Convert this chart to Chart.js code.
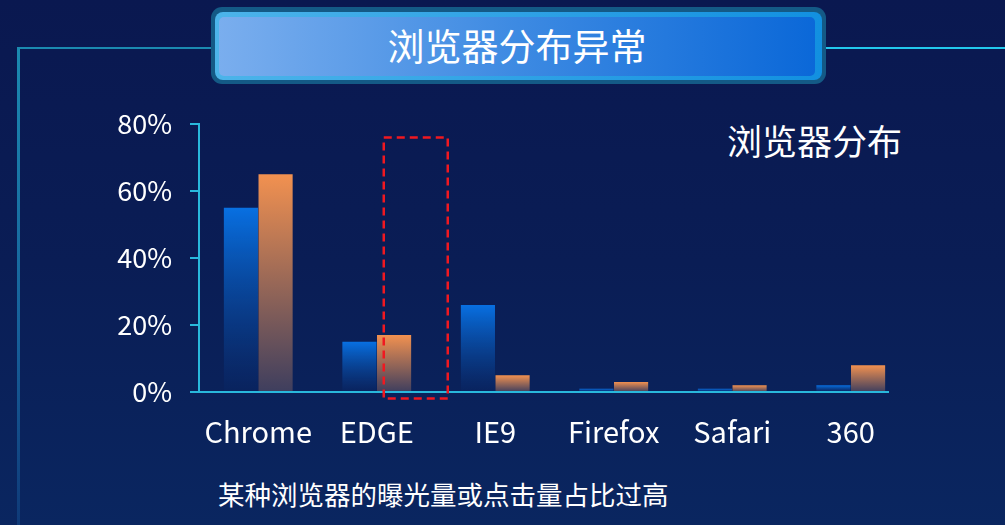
<!DOCTYPE html>
<html>
<head>
<meta charset="utf-8">
<script src="https://cdn.jsdelivr.net/npm/chart.js@4/dist/chart.umd.min.js"></script>
<style>
    html, body {
        margin: 0;
        padding: 0;
        width: 1005px;
        height: 525px;
        overflow: hidden;
        font-family: 'Noto Sans CJK SC', sans-serif;
    }
    body {
        position: relative;
        background: linear-gradient(180deg, #0a1850 0%, #0a1d55 50%, #0a2660 100%);
    }
    .line_left {
        position: absolute;
        left: 17px;
        top: 47px;
        width: 194px;
        height: 2px;
        background: #1b8ab0;
    }
    .line_down {
        position: absolute;
        left: 17px;
        top: 47px;
        width: 3px;
        height: 478px;
        background: linear-gradient(180deg, #1b8ab0 0%, #16609a 60%, #0f3a78 100%);
    }
    .line_right {
        position: absolute;
        left: 822px;
        top: 47px;
        width: 183px;
        height: 2px;
        background: #22c8ec;
    }
    .title_box {
        position: absolute;
        left: 211px;
        top: 7px;
        width: 615px;
        height: 77px;
        box-sizing: border-box;
        border-radius: 11px;
        background: #145a86;
    }
    .title_border {
        position: absolute;
        left: 4px;
        top: 5px;
        right: 4px;
        bottom: 4px;
        border-radius: 8px;
        background: linear-gradient(90deg, #4cb4ea 0%, #1290e0 100%);
    }
    .title_inner {
        position: absolute;
        left: 4px;
        top: 5px;
        right: 7px;
        bottom: 4px;
        border-radius: 5px;
        background: linear-gradient(90deg, #7aaeee 0%, #3d8ae2 50%, #0b68d8 100%);
        color: #fff;
        font-size: 37px;
        line-height: 56px;
        text-align: center;
    }
    .chart_note {
        position: absolute;
        left: 727px;
        top: 117px;
        color: #fff;
        font-size: 35px;
        line-height: 46px;
    }
    .foot_note {
        position: absolute;
        left: 218px;
        top: 476px;
        color: #fff;
        font-size: 26.5px;
        line-height: 36px;
    }
    .canvas-container {
        position: absolute;
        left: 0;
        top: 0;
        width: 1005px;
        height: 525px;
    }
</style>
</head>
<body>
<div class="line_left"></div>
<div class="line_down"></div>
<div class="line_right"></div>
<div class="title_box">
    <div class="title_border">
        <div class="title_inner">浏览器分布异常</div>
    </div>
</div>
<div class="chart_note">浏览器分布</div>
<div class="foot_note">某种浏览器的曝光量或点击量占比过高</div>
<div class="canvas-container"><canvas id="browser_graph" width="1005" height="525"></canvas></div>

<script>
// 数据
const browsers = ['Chrome', 'EDGE', 'IE9', 'Firefox', 'Safari', '360'];
const blueValues = [55, 15, 26, 1, 1, 2];
const orangeValues = [65, 17, 5, 3, 2, 8];
const yTicks = [0, 20, 40, 60, 80];

// 每根柱子自己的渐变
function barGradient(context, top, bottom) {
    const chart = context.chart;
    const y = chart.scales.y;
    if (!y || !context.parsed) {
        return top;
    }
    const yTop = y.getPixelForValue(context.parsed.y);
    const yBase = y.getPixelForValue(0);
    if (!isFinite(yTop) || !isFinite(yBase) || yTop === yBase) {
        return top;
    }
    const g = chart.ctx.createLinearGradient(0, yTop, 0, yBase);
    g.addColorStop(0, top);
    g.addColorStop(1, bottom);
    return g;
}

// x轴线和红色虚线框
const decoPlugin = {
    id: 'deco',
    afterDatasetsDraw: function (chart) {
        const ctx = chart.ctx;
        const area = chart.chartArea;
        const x = chart.scales.x;
        const y = chart.scales.y;
        ctx.save();
        ctx.strokeStyle = '#29b8dc';
        ctx.lineWidth = 2;
        ctx.beginPath();
        ctx.moveTo(area.left, y.getPixelForValue(0));
        ctx.lineTo(area.right - 21, y.getPixelForValue(0));
        ctx.stroke();

        // EDGE 右侧的虚线框
        const cx = x.getPixelForValue(1);
        ctx.strokeStyle = '#f01820';
        ctx.lineWidth = 2.5;
        ctx.setLineDash([8, 5]);
        ctx.strokeRect(cx + 7, y.getPixelForValue(76), 64, 261);
        ctx.restore();
    }
};

const browserGraph = document.getElementById('browser_graph');
new Chart(browserGraph, {
    type: 'bar',
    data: {
        labels: browsers,
        datasets: [{
            label: 'blue',
            data: blueValues,
            backgroundColor: function (context) {
                return barGradient(context, '#0870e2', 'rgba(10,36,96,0.6)');
            },
            categoryPercentage: 0.585,
            barPercentage: 0.985,
        }, {
            label: 'orange',
            data: orangeValues,
            backgroundColor: function (context) {
                return barGradient(context, '#f29150', '#3e3e5e');
            },
            categoryPercentage: 0.585,
            barPercentage: 0.985,
        }]
    },
    options: {
        responsive: false,
        animation: false,
        layout: {
            padding: { left: 0, top: 124, right: 95, bottom: 0 }
        },
        plugins: {
            legend: { display: false },
            tooltip: { enabled: false }
        },
        scales: {
            y: {
                min: 0,
                max: 80,
                afterFit: function (scale) {
                    scale.width = 199;
                },
                afterBuildTicks: function (scale) {
                    scale.ticks = yTicks.map(function (v) {
                        return { value: v };
                    });
                },
                grid: {
                    drawOnChartArea: false,
                    color: '#29b8dc',
                    tickLength: 9,
                    lineWidth: 2
                },
                border: {
                    display: true,
                    color: '#29b8dc',
                    width: 2
                },
                ticks: {
                    color: '#ffffff',
                    padding: 18,
                    font: { size: 27, family: "'Noto Sans CJK SC', sans-serif" },
                    callback: function (value) {
                        return value + '%';
                    }
                }
            },
            x: {
                afterFit: function (scale) {
                    scale.height = 133;
                },
                grid: {
                    display: false,
                    drawTicks: false
                },
                border: { display: false },
                ticks: {
                    color: '#ffffff',
                    padding: 23,
                    font: { size: 29, family: "'Noto Sans CJK SC', sans-serif" }
                }
            }
        }
    },
    plugins: [decoPlugin]
});
</script>
</body>
</html>
